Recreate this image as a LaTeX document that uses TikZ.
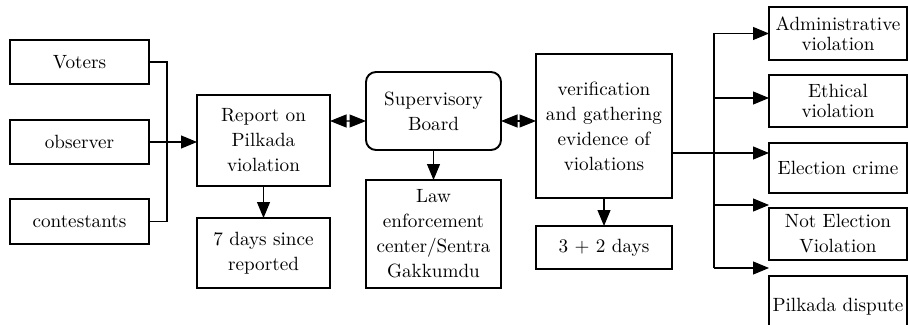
\documentclass[tikz,border=0pt]{standalone}
\usetikzlibrary{positioning,arrows.meta}
\begin{document}
\begin{tikzpicture}[every node/.style={align=center}]
        \tikzstyle{block}=[rectangle, draw, line width=1.1pt, inner sep=1pt, outer sep=0pt, font=\fontsize{10.9}{14.2}\selectfont];
        \tikzstyle{tight}=[font=\fontsize{10.9}{11.6}\selectfont];
        \tikzstyle{edge}=[-{Triangle[length=3.2mm,width=2.6mm]}, line width=0.6pt];
        \tikzstyle{both}=[{Triangle[length=3.3mm,width=2.6mm]}-{Triangle[length=3.3mm,width=2.6mm]}, line width=0.6pt];
        \path[use as bounding box, clip] (0,0) rectangle (18.16,-6.5);
        % who reports
        \node[block, minimum width=2.78cm, minimum height=0.88cm] (voters) at (1.59,-1.24) {Voters};
        \node[block, minimum width=2.78cm, minimum height=0.88cm, below=0.72cm of voters] (observer) {observer};
        \node[block, minimum width=2.78cm, minimum height=0.9cm, below=0.7cm of observer] (contestants) {contestants};
        % main chain
        \node[block, minimum width=2.66cm, minimum height=1.82cm, right=0.96cm of observer, yshift=0.03cm] (report) {Report on\\Pilkada\\violation};
        \node[block, minimum width=2.66cm, minimum height=1.4cm, below=0.64cm of report] (days) {7 days since\\reported};
        \node[block, rounded corners=0.2cm, minimum width=2.7cm, minimum height=1.56cm, right=0.72cm of report, yshift=0.59cm] (board) {Supervisory\\Board};
        \node[block, minimum width=2.7cm, minimum height=2.16cm, below=0.6cm of board] (law) {Law\\enforcement\\center/Sentra\\Gakkumdu};
        \node[block, minimum width=2.72cm, minimum height=2.88cm, right=0.7cm of board, yshift=-0.3cm] (verif) {verification\\and gathering\\evidence of\\violations};
        \node[block, minimum width=2.72cm, minimum height=0.86cm, below=0.56cm of verif] (three) {3 + 2 days};
        % outcomes
        \node[block, tight, minimum width=2.76cm, minimum height=1.06cm, right=1.94cm of verif, yshift=1.85cm] (admin) {Administrative\\violation};
        \node[block, tight, minimum width=2.76cm, minimum height=1.04cm, below=0.3cm of admin] (ethical) {Ethical\\violation};
        \node[block, minimum width=2.76cm, minimum height=1.0cm, below=0.32cm of ethical] (crime) {Election crime};
        \node[block, minimum width=2.76cm, minimum height=1.04cm, below=0.3cm of crime] (notelec) {Not Election\\Violation};
        \node[block, minimum width=2.76cm, minimum height=1.24cm, below=0.32cm of notelec] (pilkada) {Pilkada dispute};
        \draw[line width=0.6pt] (voters.east) -- ++(0.36,0) |- (contestants.east);
        \draw[edge] (observer.east) -- (observer.east -| report.west);
        \draw[edge] (report.south) -- (days.north);
        \draw[both] ([yshift=0.39cm]report.east) -- ([yshift=-0.2cm]board.west);
        \draw[edge] (board.south) -- (law.north);
        \draw[both] ([yshift=-0.2cm]board.east) -- ([yshift=0.1cm]verif.west);
        \draw[edge] (verif.south) -- (three.north);
        \coordinate (split) at ([xshift=0.84cm, yshift=-0.54cm]verif.east);
        \coordinate (et) at ([yshift=0.06cm]ethical.west);
        \coordinate (ne) at ([yshift=0.58cm]notelec.west);
        \coordinate (pk) at ([yshift=0.78cm]pilkada.west);
        \draw[edge] ([yshift=-0.54cm]verif.east) -- (split -| crime.west);
        \draw[line width=0.6pt] (split |- admin.west) -- (split |- pk);
        \draw[edge] (split |- admin.west) -- (admin.west);
        \draw[edge] (split |- et) -- (et);
        \draw[edge] (split |- ne) -- (ne);
        \draw[edge] (split |- pk) -- (pk);
    \end{tikzpicture}
\end{document}
